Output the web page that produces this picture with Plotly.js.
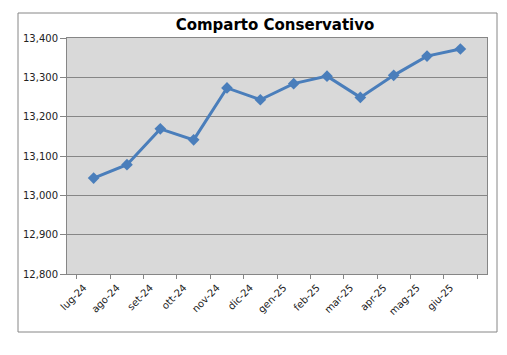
<!DOCTYPE html>
<html><head><meta charset="utf-8">
<script src="https://cdn.plot.ly/plotly-3.0.1.min.js"></script>
<style>html,body{margin:0;padding:0;background:#fff}#chart{width:507px;height:355px}</style>
</head><body><div id="chart"></div>
<script>
const months = ["lug-24","ago-24","set-24","ott-24","nov-24","dic-24","gen-25","feb-25","mar-25","apr-25","mag-25","giu-25"];
const values = [13044,13078,13169,13141,13273,13243,13284,13303,13249,13305,13354,13372];
const yTicks = [12800,12900,13000,13100,13200,13300,13400];

const W=507,H=355,L=67,R=20,T=38,B=81;
const pw=W-L-R, ph=H-T-B;
function px(x){return (x-L)/pw;}
function py(y){return (H-B-y)/ph;}

const trace = {
  x: months, y: values, type:'scatter', mode:'lines+markers',
  line:{color:'#4a7ebb', width:3},
  marker:{symbol:'diamond', size:9, color:'#4a7ebb'},
  hoverinfo:'skip'
};
const layout = {
  width:W, height:H,
  margin:{l:L,r:R,t:T,b:B,pad:0},
  paper_bgcolor:'#ffffff', plot_bgcolor:'#d9d9d9',
  showlegend:false,
  title:{text:'<b>Comparto Conservativo</b>', font:{family:'DejaVu Sans', size:15, color:'#000'}, x:275/W, xanchor:'center', y:1-25/H, yanchor:'middle', xref:'container'},
  xaxis:{type:'category', tickson:'boundaries', ticks:'outside', ticklen:4, tickcolor:'#868686',
    showgrid:false, showline:true, linecolor:'#868686', linewidth:1, mirror:true,
    tickangle:-45, ticklabelstandoff:3, ticklabelshift:-10, tickfont:{family:'DejaVu Sans', size:10, color:'#222'}, fixedrange:true},
  yaxis:{range:[12800,13400], tickvals:yTicks, ticktext:yTicks.map(v=>v.toLocaleString('en-US')),
    ticks:'outside', ticklen:6, tickcolor:'#868686', showgrid:true, gridcolor:'#868686', gridwidth:1,
    showline:true, linecolor:'#868686', linewidth:1, mirror:true, zeroline:false,
    tickfont:{family:'DejaVu Sans', size:10, color:'#222'}, fixedrange:true},
  shapes:[{type:'rect', xref:'paper', yref:'paper', x0:px(18), x1:px(497), y0:py(332), y1:py(13),
    line:{color:'#868686', width:1}, fillcolor:'rgba(0,0,0,0)', layer:'below'}]
};
Plotly.newPlot('chart',[trace],layout,{displayModeBar:false,staticPlot:true});
</script></body></html>
